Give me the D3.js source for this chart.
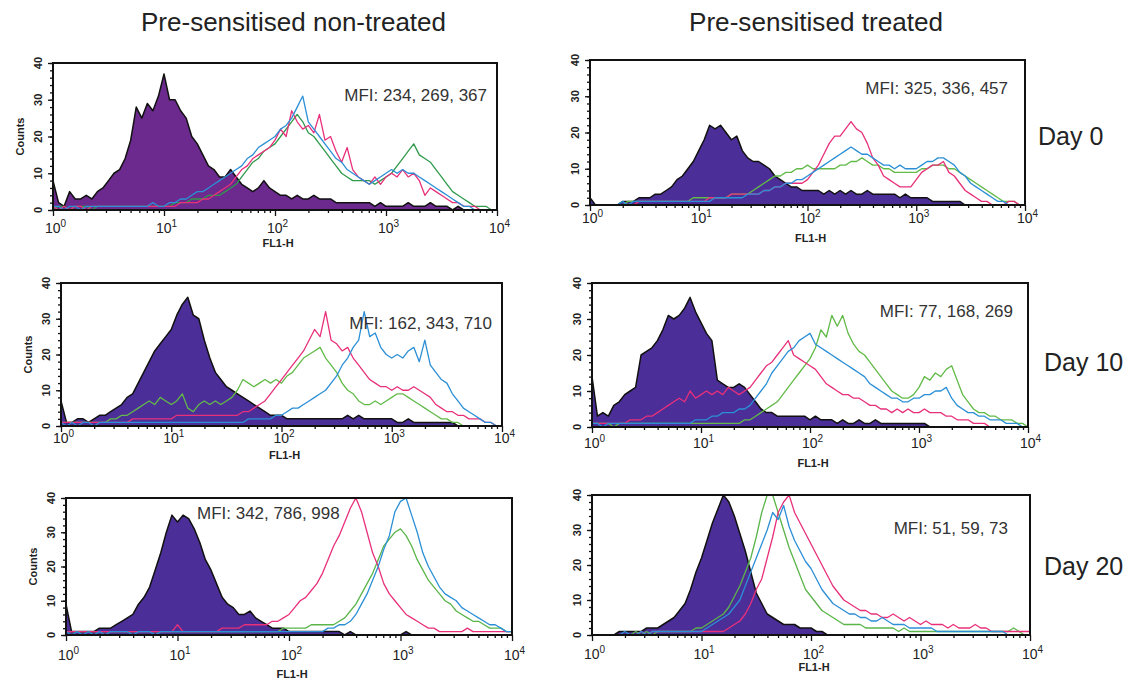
<!DOCTYPE html>
<meta charset="utf-8">
<style>
  body { margin: 0; background: #fff; }
  text { font-family: "Liberation Sans", Arial, sans-serif; }
</style>
<body></body>
<script src="https://d3js.org/d3.v7.min.js"></script>
<script>

// counts per channel, channel i sits at FL1-H = 10^(i*0.05), 81 channels from 10^0 to 10^4
var STEP = 0.05;

// Day 0, pre-sensitised non-treated
var d0nFill  = [8,2,1,5,3,3,4,3,5,6, 8,10,11,14,19,28,25,29,27,31, 37,30,30,27,25,20,18,15,12,11, 9,9,11,9,7,6,5,6,8,6, 5,4,4,3,4,3,3,4,3,3, 3,2,2,2,2,2,2,2,1,2, 1,1,1,1,2,1,1,1,2,1, 1,1,0,1,0,0,0,0,0,0, 0];
var d0nPink  = [1,0,1,0,1,1,0,1,1,1, 1,1,1,1,1,1,1,1,1,1, 1,1,1,2,2,2,2,3,3,4, 5,6,7,9,11,12,14,15,16,17, 19,22,20,27,24,22,23,21,26,19, 20,16,13,17,11,9,8,7,9,7, 9,10,9,11,9,10,8,4,6,5, 4,3,2,2,1,1,1,0,0,0, 0];
var d0nBlue  = [1,1,0,1,1,0,1,1,1,1, 1,1,1,1,1,1,1,1,2,1, 1,2,2,3,3,4,5,5,6,7, 8,9,10,11,12,14,15,17,18,19, 20,22,23,25,28,31,24,22,20,18, 16,14,13,11,10,9,8,7,8,9, 10,11,10,11,10,10,9,8,7,6, 5,4,3,2,1,1,0,0,0,0, 0];
var d0nGreen = [0,1,1,0,1,1,1,0,1,1, 1,1,1,1,1,1,1,1,1,1, 1,1,2,2,2,3,3,3,4,4, 4,5,6,7,9,11,13,14,16,17, 18,20,22,24,26,24,21,20,18,16, 14,12,10,9,8,8,8,8,7,8, 9,10,12,14,16,18,15,14,13,11, 9,7,5,4,3,2,1,1,1,0, 0];

// Day 0, pre-sensitised treated
var d0tFill  = [2,0,0,0,0,0,1,1,1,2, 2,2,3,3,4,5,7,8,10,12, 15,18,22,21,22,20,18,19,15,13, 12,12,11,10,8,7,6,5,5,4, 4,4,4,3,4,3,4,3,4,3, 3,4,3,3,3,3,3,2,3,2, 2,2,2,1,1,1,1,1,1,0, 0,0,0,0,0,0,0,0,0,0, 0];
var d0tPink  = [0,0,0,0,0,0,0,0,0,1, 1,1,1,1,1,1,1,1,1,1, 1,1,2,2,2,2,3,3,3,3, 3,3,4,4,5,5,6,6,6,6, 7,9,11,14,17,19,19,21,23,21, 20,17,13,11,8,7,6,5,5,5, 7,9,10,11,11,12,9,8,6,4, 3,2,1,1,0,0,0,1,1,0, 0];
var d0tBlue  = [0,0,0,0,0,0,1,0,1,1, 1,1,1,1,1,1,1,1,1,1, 1,1,1,2,2,2,2,2,2,3, 3,3,4,4,5,5,6,6,7,7, 8,9,10,11,12,13,14,15,16,15, 14,14,13,12,11,11,10,11,10,10, 10,11,12,12,13,13,12,11,9,8, 6,5,4,3,2,1,1,0,0,0, 0];
var d0tGreen = [0,0,0,0,0,0,0,1,1,1, 1,1,1,1,1,1,1,1,1,2, 2,2,2,2,2,2,3,3,3,3, 4,5,6,7,8,8,9,9,10,10, 11,10,10,10,10,10,11,11,12,12, 13,12,11,11,10,10,9,9,9,9, 9,10,10,11,11,11,10,10,9,8, 7,6,5,4,3,2,1,1,1,0, 0];

// Day 10, pre-sensitised non-treated
var d10nFill  = [7,1,1,2,2,1,2,3,3,4, 5,6,8,9,12,15,18,21,23,25, 27,31,34,36,31,30,24,19,15,13, 11,10,9,8,7,6,5,4,3,3, 3,2,2,2,2,2,2,2,2,2, 2,2,3,2,3,2,2,2,2,2, 2,1,1,2,1,1,1,1,1,1, 1,1,0,0,0,0,0,0,0,0, 0];
var d10nPink  = [1,1,1,1,1,1,1,1,1,1, 1,1,1,2,2,2,2,2,2,2, 2,3,3,3,3,3,3,3,3,3, 3,3,3,4,4,5,6,7,9,11, 13,15,17,19,21,24,27,25,32,24, 23,21,22,19,17,15,13,12,11,11, 10,11,10,10,11,10,9,8,6,5, 4,4,3,3,2,2,2,1,1,0, 0];
var d10nBlue  = [1,0,1,0,1,1,0,1,1,1, 1,1,1,1,1,1,1,1,1,1, 1,1,1,1,1,1,1,1,1,1, 1,1,1,1,2,2,2,2,2,3, 3,4,5,5,6,7,8,9,10,12, 14,17,19,22,24,32,25,26,22,20, 19,20,19,21,22,18,24,17,15,13, 12,9,7,5,4,3,2,1,1,0, 0];
var d10nGreen = [1,1,1,1,1,1,1,1,1,2, 2,3,3,4,5,6,7,6,8,7, 6,7,9,5,4,6,7,6,7,6, 7,8,10,13,12,11,12,13,12,13, 12,14,15,17,19,20,21,22,19,17, 15,12,10,9,7,6,6,7,6,7, 8,9,9,8,7,6,5,4,3,2, 2,1,1,0,0,0,0,0,0,0, 0];

// Day 10, pre-sensitised treated
var d10tFill  = [14,3,4,3,6,7,9,10,11,20, 21,22,24,27,31,30,31,33,36,32, 29,26,24,13,12,11,11,12,11,9, 7,5,4,4,3,3,3,3,3,3, 2,3,2,2,2,1,2,1,1,2, 1,1,2,1,1,1,1,1,1,1, 1,1,0,0,0,0,0,0,0,0, 0,0,0,0,0,0,0,0,0,0, 0];
var d10tPink  = [1,1,1,1,1,1,1,2,2,2, 3,3,4,5,6,7,8,7,10,8, 9,10,9,10,9,11,10,9,10,11, 13,15,17,18,20,22,24,20,19,18, 17,16,14,12,11,10,9,9,8,8, 7,6,6,5,5,4,5,4,5,4, 4,5,4,4,4,3,3,2,2,2, 1,1,1,0,0,0,0,0,0,0, 0];
var d10tBlue  = [1,1,0,1,1,1,1,1,1,1, 1,1,1,1,1,1,1,1,1,2, 2,2,3,3,4,4,4,5,5,6, 8,10,12,15,17,19,21,22,24,25, 26,23,22,21,20,19,18,17,16,15, 14,12,11,10,9,8,8,7,7,8, 8,9,9,10,10,11,8,6,5,4, 4,3,3,2,2,2,1,1,1,0, 0];
var d10tGreen = [1,1,1,1,0,1,1,1,1,1, 1,1,1,1,1,1,1,1,1,1, 1,1,1,1,1,1,1,1,2,2, 3,4,5,6,7,9,11,13,15,17, 19,22,27,25,31,28,31,26,23,21, 20,18,16,14,12,10,9,8,8,9, 11,14,13,15,14,16,17,13,9,7, 5,4,4,3,3,2,2,2,1,1, 0];

// Day 20, pre-sensitised non-treated
var d20nFill  = [9,1,1,1,1,1,2,2,2,3, 4,5,6,9,11,14,19,24,30,35, 33,35,34,31,27,22,19,15,11,9, 8,6,6,7,5,4,3,2,2,2, 1,1,1,1,1,1,1,1,1,1, 0,1,0,0,0,0,0,0,0,0, 0,1,0,0,0,0,0,0,0,0, 0,0,0,0,0,0,0,0,0,0, 0];
var d20nPink  = [1,1,1,1,1,1,1,1,1,1, 1,1,1,1,1,1,1,1,1,1, 3,1,1,1,1,1,1,1,2,2, 2,2,3,3,3,3,3,4,4,5, 6,8,10,11,13,15,18,22,26,29, 33,37,40,36,30,24,20,15,12,10, 8,6,5,4,3,2,2,1,1,1, 1,1,2,1,1,1,1,1,1,1, 1];
var d20nBlue  = [1,0,1,0,1,0,1,0,1,1, 1,1,0,1,1,1,0,1,1,1, 1,1,1,1,1,1,1,1,1,1, 1,1,1,1,1,1,1,1,1,1, 1,1,1,1,1,1,1,2,2,3, 3,4,6,9,12,16,20,25,29,36, 39,40,35,30,24,20,17,14,12,11, 10,8,7,6,5,4,3,3,2,1, 1];
var d20nGreen = [1,1,1,1,1,1,1,1,1,1, 1,1,1,1,1,1,1,1,1,1, 1,1,1,1,1,1,1,1,1,1, 1,1,1,1,1,1,1,1,1,2, 2,2,2,2,3,3,3,3,3,4, 5,7,9,12,15,18,22,26,28,30, 31,29,26,22,19,16,14,12,10,9, 7,6,5,4,4,3,2,2,2,1, 1];

// Day 20, pre-sensitised treated
var d20tFill  = [0,0,0,0,0,1,1,1,1,1, 2,2,2,3,4,5,7,9,13,18, 22,27,32,36,40,38,34,29,24,18, 12,9,6,5,4,3,3,3,2,2, 2,1,1,0,0,0,0,0,0,0, 0,0,0,0,0,0,0,0,0,0, 0,0,0,0,0,0,0,0,0,0, 0,0,0,0,0,0,0,0,0,0, 0];
var d20tPink  = [0,0,0,0,0,0,0,0,0,1, 0,1,1,1,1,1,1,1,1,1, 1,1,1,1,1,2,3,4,6,9, 13,16,22,28,35,38,40,35,32,29, 26,23,20,17,14,12,10,9,8,7, 7,6,6,5,5,6,5,4,5,4, 3,4,3,3,3,2,3,2,2,2, 3,2,2,1,1,1,1,1,1,1, 1];
var d20tBlue  = [0,0,0,0,0,0,1,0,0,1, 0,1,1,1,1,1,1,1,1,1, 1,2,3,4,5,6,8,10,14,18, 22,26,30,35,33,37,31,27,24,21, 19,16,13,11,9,8,7,6,6,5, 5,4,4,5,4,3,3,3,2,2, 2,2,2,1,1,1,1,1,1,1, 1,1,1,1,1,1,0,0,0,0, 0];
var d20tGreen = [0,0,0,0,0,0,0,0,1,0, 1,0,1,1,1,1,1,1,1,2, 2,3,4,5,6,8,11,14,18,22, 28,35,40,40,35,30,25,21,17,13, 11,9,7,6,5,4,3,3,3,3, 2,2,2,2,2,2,1,2,1,1, 1,1,1,1,1,1,1,1,1,1, 1,1,1,1,1,1,1,2,1,0, 0];

var columnTitles = ["Pre-sensitised non-treated", "Pre-sensitised treated"];
var dayLabels = ["Day 0", "Day 10", "Day 20"];
var mfiLabels = ["MFI: 234, 269, 367", "MFI: 325, 336, 457",
                 "MFI: 162, 343, 710", "MFI: 77, 168, 269",
                 "MFI: 342, 786, 998", "MFI: 51, 59, 73"];
var xMajor = [1, 10, 100, 1000, 10000];
var yMajor = [0, 10, 20, 30, 40];

var series = [
  [d0nFill, d0nGreen, d0nPink, d0nBlue],
  [d0tFill, d0tGreen, d0tPink, d0tBlue],
  [d10nFill, d10nGreen, d10nPink, d10nBlue],
  [d10tFill, d10tGreen, d10tPink, d10tBlue],
  [d20nFill, d20nGreen, d20nPink, d20nBlue],
  [d20tFill, d20tGreen, d20tPink, d20tBlue]
];

// frame of each panel in page pixels
var layout = [
  {left: 53,  right: 497,  top: 63,  bottom: 210, labY: 233, flY: 247, mfiX: 487,  mfiY: 101, anchor: "end"},
  {left: 590, right: 1025, top: 60,  bottom: 205, labY: 223, flY: 242, mfiX: 1008, mfiY: 94,  anchor: "end"},
  {left: 61,  right: 502,  top: 283, bottom: 426, labY: 443, flY: 459, mfiX: 492,  mfiY: 329, anchor: "end"},
  {left: 592, right: 1028, top: 283, bottom: 427, labY: 448, flY: 467, mfiX: 1013, mfiY: 317, anchor: "end"},
  {left: 66,  right: 512,  top: 498, bottom: 635, labY: 660, flY: 678, mfiX: 197,  mfiY: 519, anchor: "start"},
  {left: 592, right: 1030, top: 495, bottom: 635, labY: 659, flY: 671, mfiX: 1008, mfiY: 534, anchor: "end"}
];

var fillColors = ["#6c2a8e", "#4b2e98", "#4b2e98", "#4b2e98", "#4b2e98", "#4b2e98"];
var greenColors = ["#2f9a4c", "#62ba48", "#62ba48", "#62ba48", "#5ab54a", "#5ab54a"];
var pink = "#e8307a", blue = "#2b8fd6";

var svg = d3.select("body").append("svg")
    .attr("width", 1137)
    .attr("height", 679);

// column titles
svg.append("text").attr("x", 141).attr("y", 31)
    .attr("font-size", 26).attr("fill", "#222")
    .attr("textLength", 305).attr("lengthAdjust", "spacingAndGlyphs")
    .text(columnTitles[0]);
svg.append("text").attr("x", 689).attr("y", 31)
    .attr("font-size", 26).attr("fill", "#222")
    .attr("textLength", 254).attr("lengthAdjust", "spacingAndGlyphs")
    .text(columnTitles[1]);

// day labels on the right
var dayPos = [[1038, 145], [1044, 371], [1044, 575]];
dayLabels.forEach(function(t, i) {
  svg.append("text").attr("x", dayPos[i][0]).attr("y", dayPos[i][1])
      .attr("font-size", 25).attr("fill", "#222").text(t);
});

// clip for the right column "Counts" labels, which are cut at the column edge
svg.append("clipPath").attr("id", "colclip")
  .append("rect").attr("x", 560).attr("y", 0).attr("width", 600).attr("height", 679);

var minorX = [];
[1, 10, 100, 1000].forEach(function(d) {
  for (var k = 2; k < 10; k++) minorX.push(d * k);
});

layout.forEach(function(p, i) {
  var x = d3.scaleLog().domain([1, 1e4]).range([p.left, p.right]);
  var y = d3.scaleLinear().domain([0, 40]).range([p.bottom, p.top]);
  var g = svg.append("g");

  g.append("clipPath").attr("id", "clip" + i)
    .append("rect")
      .attr("x", p.left).attr("y", p.top)
      .attr("width", p.right - p.left).attr("height", p.bottom - p.top + 1);

  var pts = function(arr) {
    return arr.map(function(c, j) { return [Math.pow(10, j * STEP), c]; });
  };

  var area = d3.area()
      .x(function(d) { return x(d[0]); })
      .y0(y(0))
      .y1(function(d) { return y(d[1]); });
  var line = d3.line()
      .x(function(d) { return x(d[0]); })
      .y(function(d) { return y(d[1]); });

  var plot = g.append("g").attr("clip-path", "url(#clip" + i + ")");
  var s = series[i];

  plot.append("path")
      .attr("d", area(pts(s[0])))
      .attr("fill", fillColors[i])
      .attr("stroke", "#111")
      .attr("stroke-width", 1.5)
      .attr("stroke-linejoin", "round");

  var lineColors = [greenColors[i], pink, blue];
  [s[1], s[2], s[3]].forEach(function(arr, k) {
    plot.append("path")
        .attr("d", line(pts(arr)))
        .attr("fill", "none")
        .attr("stroke", lineColors[k])
        .attr("stroke-width", 1.3)
        .attr("stroke-linejoin", "round");
  });

  // x axis ticks
  var xMaj = g.append("g").attr("transform", "translate(0," + p.bottom + ")")
      .call(d3.axisBottom(x).tickValues(xMajor).tickSize(6).tickFormat(""));
  var xMin = g.append("g").attr("transform", "translate(0," + p.bottom + ")")
      .call(d3.axisBottom(x).tickValues(minorX).tickSize(3).tickFormat(""));
  // y axis ticks
  var yMaj = g.append("g").attr("transform", "translate(" + p.left + ",0)")
      .call(d3.axisLeft(y).tickValues(yMajor).tickSize(5).tickFormat(""));
  var yMin = g.append("g").attr("transform", "translate(" + p.left + ",0)")
      .call(d3.axisLeft(y).tickValues(d3.range(0, 41, 2)).tickSize(3).tickFormat(""));
  [xMaj, xMin, yMaj, yMin].forEach(function(a) {
    a.select(".domain").remove();
    a.selectAll("line").attr("stroke", "#111").attr("stroke-width", 1.3);
  });

  // frame
  g.append("rect")
      .attr("x", p.left).attr("y", p.top)
      .attr("width", p.right - p.left).attr("height", p.bottom - p.top)
      .attr("fill", "none").attr("stroke", "#111").attr("stroke-width", 2);

  // x tick labels 10^n
  xMajor.forEach(function(v, n) {
    var t = g.append("text")
        .attr("x", x(v) - 8).attr("y", p.labY)
        .attr("font-size", 14).attr("fill", "#222");
    t.append("tspan").text("10");
    t.append("tspan").attr("font-size", 10).attr("dy", -6).text(n);
  });

  g.append("text")
      .attr("x", (p.left + p.right) / 2 + 3).attr("y", p.flY)
      .attr("text-anchor", "middle")
      .attr("font-size", 11).attr("font-weight", "bold").attr("fill", "#222")
      .text("FL1-H");

  // y tick labels, rotated
  yMajor.forEach(function(v) {
    g.append("text")
        .attr("transform", "translate(" + (p.left - 11) + "," + y(v) + ") rotate(-90)")
        .attr("text-anchor", "middle")
        .attr("font-size", 11).attr("font-weight", "bold").attr("fill", "#222")
        .text(v);
  });

  var counts = g.append("text")
      .attr("transform", "translate(" + (p.left - 29) + "," + ((p.top + p.bottom) / 2) + ") rotate(-90)")
      .attr("text-anchor", "middle")
      .attr("font-size", 11).attr("font-weight", "bold").attr("fill", "#222")
      .text("Counts");
  if (i % 2 === 1) counts.attr("clip-path", "url(#colclip)");

  g.append("text")
      .attr("x", p.mfiX).attr("y", p.mfiY)
      .attr("text-anchor", p.anchor)
      .attr("font-size", 17).attr("fill", "#333")
      .text(mfiLabels[i]);
});

</script>
